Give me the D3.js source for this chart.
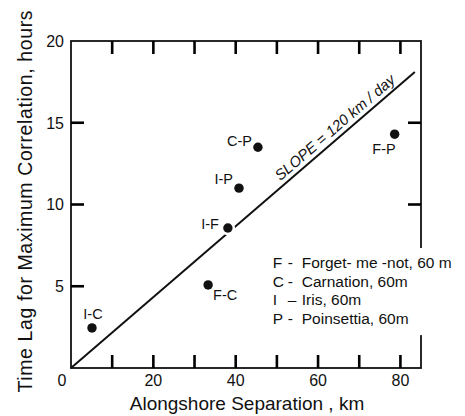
<!DOCTYPE html>
<html>
<head>
<meta charset="utf-8">
<script src="https://cdn.jsdelivr.net/npm/d3@7"></script>
<style>
  html, body { margin: 0; padding: 0; background: #fff; }
  svg { display: block; }
  text { font-family: "Liberation Sans", Arial, sans-serif; fill: #111; }
</style>
</head>
<body>
<svg id="chart" width="465" height="416"></svg>
<script>
// Station pairs: alongshore separation (km) vs. lag of maximum correlation (hours)
const pairs      = ["I-C", "I-F", "F-C", "C-P", "I-P", "F-P"];
const separation = [5.1, 38.1, 33.3, 45.4, 40.8, 78.6];
const timeLag    = [2.45, 8.56, 5.08, 13.5, 11.0, 14.3];

// Reference propagation line drawn from the origin
const lineSep = [0, 83.5];
const lineLag = [0, 18.1];
const lineLabel = "SLOPE = 120 km / day";

// Axis ticks
const xTicks = [10, 20, 30, 40, 50, 60, 70, 80];
const xTickLabels = [20, 40, 60, 80];
const yTicks = [5, 10, 15];
const yTicksRight = [10, 15];
const yTickLabels = [5, 10, 15, 20];

// Station key
const legendKeys  = ["F", "C", "I", "P"];
const legendNames = ["Forget- me -not, 60 m", "Carnation, 60m", "Iris, 60m", "Poinsettia, 60m"];

const svg = d3.select("#chart");
const x = d3.scaleLinear().domain([0, 85]).range([71, 421]);
const y = d3.scaleLinear().domain([0, 20]).range([368, 41]);
const TICK = 13;
const ink = "#111";

// Frame
svg.append("rect")
  .attr("x", x(0)).attr("y", y(20))
  .attr("width", x(85) - x(0)).attr("height", y(0) - y(20))
  .attr("fill", "none").attr("stroke", ink).attr("stroke-width", 1.8);

// Inward tick marks on all four sides
const tickSegs = [];
xTicks.forEach(v => {
  tickSegs.push([[x(v), y(0)], [x(v), y(0) - TICK]]);
  tickSegs.push([[x(v), y(20)], [x(v), y(20) + TICK]]);
});
yTicks.forEach(v => tickSegs.push([[x(0), y(v)], [x(0) + TICK, y(v)]]));
yTicksRight.forEach(v => tickSegs.push([[x(85), y(v)], [x(85) - TICK, y(v)]]));
svg.append("g").selectAll("path").data(tickSegs).join("path")
  .attr("d", d => d3.line()(d))
  .attr("fill", "none").attr("stroke", "#000").attr("stroke-width", 2.6);

// Tick labels
svg.append("g").selectAll("text").data(xTickLabels).join("text")
  .attr("x", d => x(d)).attr("y", y(0) + 18)
  .attr("text-anchor", "middle").attr("font-size", 16)
  .text(d => d);
svg.append("g").selectAll("text").data(yTickLabels).join("text")
  .attr("x", x(0) - 7).attr("y", d => y(d)).attr("dy", "0.36em")
  .attr("text-anchor", "end").attr("font-size", 16)
  .text(d => d);
svg.append("text")
  .attr("x", x(0) - 9).attr("y", y(0) + 18)
  .attr("text-anchor", "middle").attr("font-size", 16)
  .text(0);

// Axis titles
svg.append("text")
  .attr("x", (x(0) + x(85)) / 2 + 1).attr("y", 410)
  .attr("text-anchor", "middle").attr("font-size", 19)
  .text("Alongshore Separation , km");
svg.append("text")
  .attr("transform", `translate(32,${(y(0) + y(20)) / 2 - 3}) rotate(-90)`)
  .attr("text-anchor", "middle").attr("font-size", 19.5)
  .attr("textLength", 382).attr("lengthAdjust", "spacing")
  .text("Time Lag for Maximum Correlation,  hours");

// Propagation line
const lineGen = d3.line().x(d => x(d[0])).y(d => y(d[1]));
svg.append("path")
  .datum(d3.zip(lineSep, lineLag))
  .attr("d", lineGen)
  .attr("fill", "none").attr("stroke", ink).attr("stroke-width", 2);

// Label along the line
const ang = Math.atan2(y(lineLag[1]) - y(lineLag[0]), x(lineSep[1]) - x(lineSep[0])) * 180 / Math.PI;
const labSep = 65.7;
const labLag = labSep * lineLag[1] / lineSep[1];
svg.append("text")
  .attr("transform", `translate(${x(labSep)},${y(labLag)}) rotate(${ang})`)
  .attr("y", -5)
  .attr("text-anchor", "middle").attr("font-size", 15)
  .attr("font-style", "italic")
  .text(lineLabel);

// Points, with a thin white halo where they cross the line
const points = pairs.map((p, i) => ({ p, sx: separation[i], lag: timeLag[i] }));
svg.append("g").selectAll("circle").data(points).join("circle")
  .attr("cx", d => x(d.sx)).attr("cy", d => y(d.lag))
  .attr("r", 4.7)
  .attr("fill", ink).attr("stroke", "#fff").attr("stroke-width", 5)
  .attr("paint-order", "stroke");

// Point labels placed beside each dot
const place = {
  "I-C": { dx: 1,  dy: -9, anchor: "middle" },
  "I-F": { dx: -9, dy: 1,  anchor: "end" },
  "F-C": { dx: 5,  dy: 15, anchor: "start" },
  "C-P": { dx: -6, dy: -1, anchor: "end" },
  "I-P": { dx: -6, dy: -4, anchor: "end" },
  "F-P": { dx: 1,  dy: 20, anchor: "end" }
};
svg.append("g").selectAll("text").data(points).join("text")
  .attr("x", d => x(d.sx) + place[d.p].dx)
  .attr("y", d => y(d.lag) + place[d.p].dy)
  .attr("text-anchor", d => place[d.p].anchor)
  .attr("font-size", 14.5)
  .text(d => d.p);

// Station key (breaks the right frame line)
const lg = svg.append("g");
const lx = x(49), ly0 = 268, lstep = 18.7;
lg.append("rect")
  .attr("x", x(85) - 4).attr("y", ly0 - 20)
  .attr("width", 8).attr("height", lstep * 3 + 31)
  .attr("fill", "#fff");
legendKeys.forEach((k, i) => {
  const t = lg.append("text").attr("y", ly0 + i * lstep).attr("font-size", 15.5);
  t.append("tspan").attr("x", lx).text(k);
  t.append("tspan").attr("x", lx + 15).text(i === 2 ? "–" : "-");
  t.append("tspan").attr("x", lx + 29).text(legendNames[i]);
});
</script>
</body>
</html>
